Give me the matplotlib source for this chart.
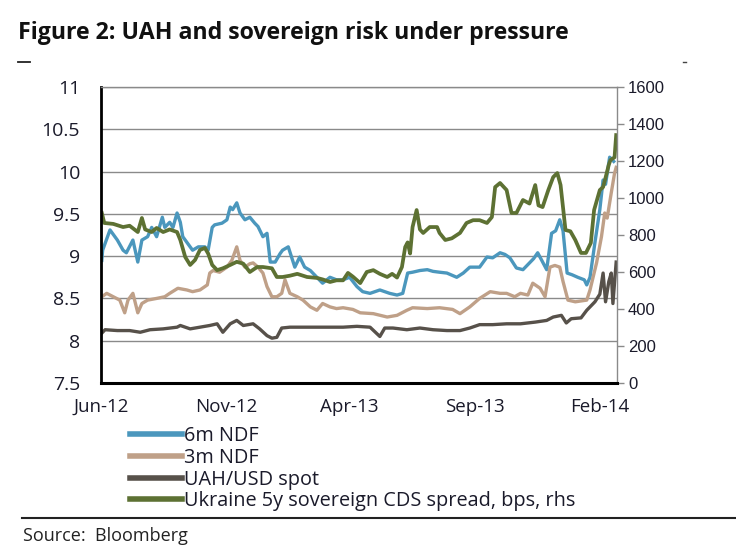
import numpy as np
import pandas as pd
import matplotlib
matplotlib.use("Agg")
import matplotlib.pyplot as plt
from matplotlib.lines import Line2D
import matplotlib.dates as mdates

# days counted from 1 Jun 2012
start = pd.Timestamp("2012-06-01")

ndf6_days = [1, 2, 11, 20, 27, 31, 39, 45, 50, 57, 62, 68, 75, 78, 84, 88, 93, 97, 100, 106,
             112, 119, 127, 131, 136, 139, 148, 154, 158, 161, 166, 170, 176, 182, 188, 192, 198, 203, 207, 213,
             219, 222, 229, 233, 237, 243, 249, 256, 264, 271, 280, 288, 296, 304, 313, 320, 329, 341, 353, 362,
             369, 375, 381, 390, 399, 406, 414, 423, 435, 443, 451, 463, 472, 479, 488, 494, 500, 508, 516, 522,
             529, 534, 539, 545, 551, 556, 561, 565, 570, 576, 583, 591, 594, 598, 604, 610, 614, 617, 622, 627]
ndf6 = [8.95, 9.07, 9.31, 9.19, 9.07, 9.04, 9.19, 8.93, 9.19, 9.23, 9.34, 9.23, 9.46, 9.34, 9.40, 9.34, 9.51, 9.40, 9.23, 9.15,
        9.07, 9.11, 9.11, 9.07, 9.34, 9.37, 9.39, 9.43, 9.58, 9.55, 9.63, 9.51, 9.43, 9.46, 9.39, 9.35, 9.23, 9.27, 8.93, 8.93,
        9.03, 9.07, 9.11, 8.99, 8.87, 8.99, 8.87, 8.83, 8.75, 8.68, 8.75, 8.72, 8.72, 8.75, 8.64, 8.58, 8.56, 8.60, 8.56, 8.54,
        8.56, 8.80, 8.81, 8.83, 8.84, 8.82, 8.81, 8.80, 8.75, 8.80, 8.87, 8.87, 8.99, 8.98, 9.04, 9.02, 8.98, 8.86, 8.84, 8.90,
        8.97, 9.04, 8.95, 8.84, 9.27, 9.30, 9.43, 9.30, 8.80, 8.78, 8.75, 8.72, 8.66, 8.75, 9.16, 9.55, 9.90, 9.85, 10.17, 10.12]

ndf3_days = [1, 7, 15, 23, 29, 33, 39, 45, 50, 57, 68, 78, 84, 94, 105, 112, 121, 130, 133, 137,
             145, 154, 160, 166, 170, 176, 182, 186, 192, 198, 203, 209, 215, 221, 225, 231, 240, 247, 256, 264,
             271, 280, 288, 296, 308, 317, 333, 350, 362, 374, 381, 399, 414, 430, 439, 451, 463, 476, 488, 496,
             506, 513, 522, 528, 537, 543, 549, 555, 561, 565, 571, 580, 587, 594, 598, 606, 612, 616, 619, 624,
             628, 630]
ndf3 = [8.52, 8.56, 8.52, 8.48, 8.33, 8.48, 8.56, 8.33, 8.44, 8.48, 8.50, 8.52, 8.56, 8.62, 8.60, 8.58, 8.60, 8.66, 8.80, 8.83,
        8.81, 8.87, 8.95, 9.11, 8.95, 8.87, 8.91, 8.92, 8.87, 8.80, 8.64, 8.52, 8.52, 8.56, 8.72, 8.56, 8.52, 8.48, 8.40, 8.36,
        8.44, 8.40, 8.38, 8.39, 8.37, 8.33, 8.32, 8.28, 8.30, 8.36, 8.39, 8.38, 8.39, 8.37, 8.32, 8.40, 8.50, 8.58, 8.56, 8.56,
        8.52, 8.56, 8.54, 8.68, 8.62, 8.52, 8.87, 8.89, 8.87, 8.70, 8.48, 8.46, 8.47, 8.48, 8.60, 8.92, 9.23, 9.51, 9.45, 9.75,
        9.98, 10.05]

spot_days = [1, 5, 20, 35, 48, 60, 76, 93, 97, 109, 121, 133, 142, 149, 158, 166, 174, 186, 194, 203,
             209, 215, 221, 231, 247, 264, 280, 296, 313, 329, 341, 347, 357, 374, 390, 406, 423, 439, 451, 463,
             479, 496, 513, 531, 545, 553, 563, 569, 575, 587, 594, 604, 610, 614, 617, 621, 624, 626, 630]
spot = [8.09, 8.13, 8.12, 8.12, 8.10, 8.13, 8.14, 8.16, 8.18, 8.14, 8.16, 8.18, 8.20, 8.10, 8.20, 8.24, 8.18, 8.20, 8.14, 8.06,
        8.03, 8.04, 8.15, 8.16, 8.16, 8.16, 8.16, 8.16, 8.17, 8.16, 8.05, 8.15, 8.15, 8.13, 8.15, 8.13, 8.12, 8.12, 8.15, 8.19,
        8.19, 8.20, 8.20, 8.22, 8.24, 8.28, 8.30, 8.21, 8.26, 8.27, 8.36, 8.46, 8.55, 8.80, 8.46, 8.70, 8.80, 8.44, 8.93]

cds_days = [1, 4, 15, 27, 35, 45, 50, 54, 62, 68, 76, 84, 93, 97, 103, 109, 115, 121, 127, 131,
            136, 142, 149, 158, 166, 174, 182, 191, 198, 209, 215, 222, 231, 240, 252, 264, 271, 280, 288, 296,
            302, 308, 317, 325, 333, 341, 350, 356, 362, 368, 372, 375, 378, 381, 386, 390, 394, 402, 411, 414,
            421, 429, 439, 447, 455, 463, 472, 478, 482, 488, 496, 502, 508, 516, 524, 531, 535, 540, 547, 553,
            558, 562, 568, 574, 580, 587, 593, 599, 603, 610, 614, 617, 621, 623, 628, 630]
cds = [919, 865, 860, 843, 850, 816, 892, 830, 816, 838, 816, 830, 816, 773, 681, 638, 665, 719, 730, 700,
       638, 610, 620, 638, 655, 645, 600, 627, 627, 620, 573, 573, 580, 590, 573, 568, 560, 546, 555, 555,
       595, 575, 540, 600, 610, 590, 573, 590, 570, 627, 735, 760, 700, 843, 935, 830, 811, 843, 843, 811,
       773, 782, 811, 865, 880, 880, 865, 897, 1059, 1081, 1043, 919, 919, 989, 970, 1070, 960, 951, 1043, 1113,
       1135, 1070, 827, 820, 773, 703, 703, 757, 935, 1043, 1059, 1110, 1180, 1205, 1220, 1340]

left_ticks = [7.5, 8, 8.5, 9, 9.5, 10, 10.5, 11]
right_ticks = [0, 200, 400, 600, 800, 1000, 1200, 1400, 1600]
x_ticks = ["2012-06-01", "2012-11-01", "2013-04-01", "2013-09-01", "2014-02-01"]

labels = ["6m NDF", "3m NDF", "UAH/USD spot", "Ukraine 5y sovereign CDS spread, bps, rhs"]
colors = ["#4b97bd", "#bfa088", "#57514a", "#5d7133"]


def to_dates(days):
    return start + pd.to_timedelta(days, unit="D")


fig = plt.figure(figsize=(7.36, 5.58), dpi=100)
ax = fig.add_axes([101 / 736, 1 - 383 / 558, 516 / 736, 296 / 558])
ax2 = ax.twinx()

lw = 2.4
l1, = ax.plot(to_dates(ndf6_days), ndf6, color=colors[0], lw=lw)
l2, = ax.plot(to_dates(ndf3_days), ndf3, color=colors[1], lw=lw)
l3, = ax.plot(to_dates(spot_days), spot, color=colors[2], lw=lw)
l4, = ax2.plot(to_dates(cds_days), cds, color=colors[3], lw=lw + 0.3)

ax.set_ylim(7.5, 11)
ax2.set_ylim(0, 1600)
ax.set_xlim(start, start + pd.Timedelta(days=631))

ax.set_yticks(left_ticks)
ax.set_yticklabels(["7.5", "8", "8.5", "9", "9.5", "10", "10.5", "11"],
                   fontfamily="Open Sans", fontsize=14, color="#1a1a2a")
ax.tick_params(axis="y", length=0, pad=15)
ax.grid(axis="y", color="#8a8a8a", lw=1)
ax.set_axisbelow(True)

ax2.set_yticks(right_ticks)
ax2.set_yticklabels([str(t) for t in right_ticks], fontfamily="Liberation Sans",
                    fontsize=12, color="#1a1a2a")
ax2.tick_params(axis="y", length=5, width=1, color="#8a8a8a", pad=3)

ax.set_xticks(pd.to_datetime(x_ticks))
ax.xaxis.set_major_formatter(mdates.DateFormatter("%b-%y"))
ax.tick_params(axis="x", length=0, pad=11)
for t in ax.get_xticklabels():
    t.set_fontfamily("Open Sans")
    t.set_fontsize(13.5)
    t.set_color("#1a1a2a")

for a in (ax, ax2):
    for s in a.spines.values():
        s.set_visible(False)
ax2.spines["left"].set_visible(True)
ax2.spines["left"].set_color("black")
ax2.spines["left"].set_linewidth(2)
ax2.spines["bottom"].set_visible(True)
ax2.spines["bottom"].set_color("black")
ax2.spines["bottom"].set_linewidth(2.2)
ax2.spines["top"].set_visible(True)
ax2.spines["top"].set_color("#8a8a8a")
ax2.spines["top"].set_linewidth(1)
ax2.spines["right"].set_visible(True)
ax2.spines["right"].set_color("#8a8a8a")
ax2.spines["right"].set_linewidth(1)

leg = fig.legend([l1, l2, l3, l4], labels, loc="upper left",
                 bbox_to_anchor=(130 / 736, 1 - 426 / 558), frameon=False,
                 prop={"family": "Open Sans", "size": 14.3},
                 handlelength=2.6, handletextpad=0.12, labelspacing=0.09,
                 borderaxespad=0, borderpad=0)
for h in leg.get_lines():
    h.set_linewidth(4)
for t in leg.get_texts():
    t.set_color("#1a1a2a")

fig.text(18 / 736, 1 - 33 / 558, "Figure 2: UAH and sovereign risk under pressure",
         fontfamily="Open Sans", fontweight="bold", fontsize=16.7, va="center", color="#111111")
fig.add_artist(Line2D([18 / 736, 30 / 736], [1 - 62 / 558, 1 - 62 / 558], color="#222222", lw=1.3))
fig.add_artist(Line2D([683 / 736, 686 / 736], [1 - 62 / 558, 1 - 62 / 558], color="#444444", lw=1))
fig.add_artist(Line2D([22 / 736, 1.0], [1 - 518 / 558, 1 - 518 / 558], color="#222222", lw=1.5))
fig.text(23 / 736, 1 - 536 / 558, "Source:  Bloomberg", fontfamily="Open Sans",
         fontsize=13, va="center", color="#222222")

fig.savefig("out.png", dpi=100)
